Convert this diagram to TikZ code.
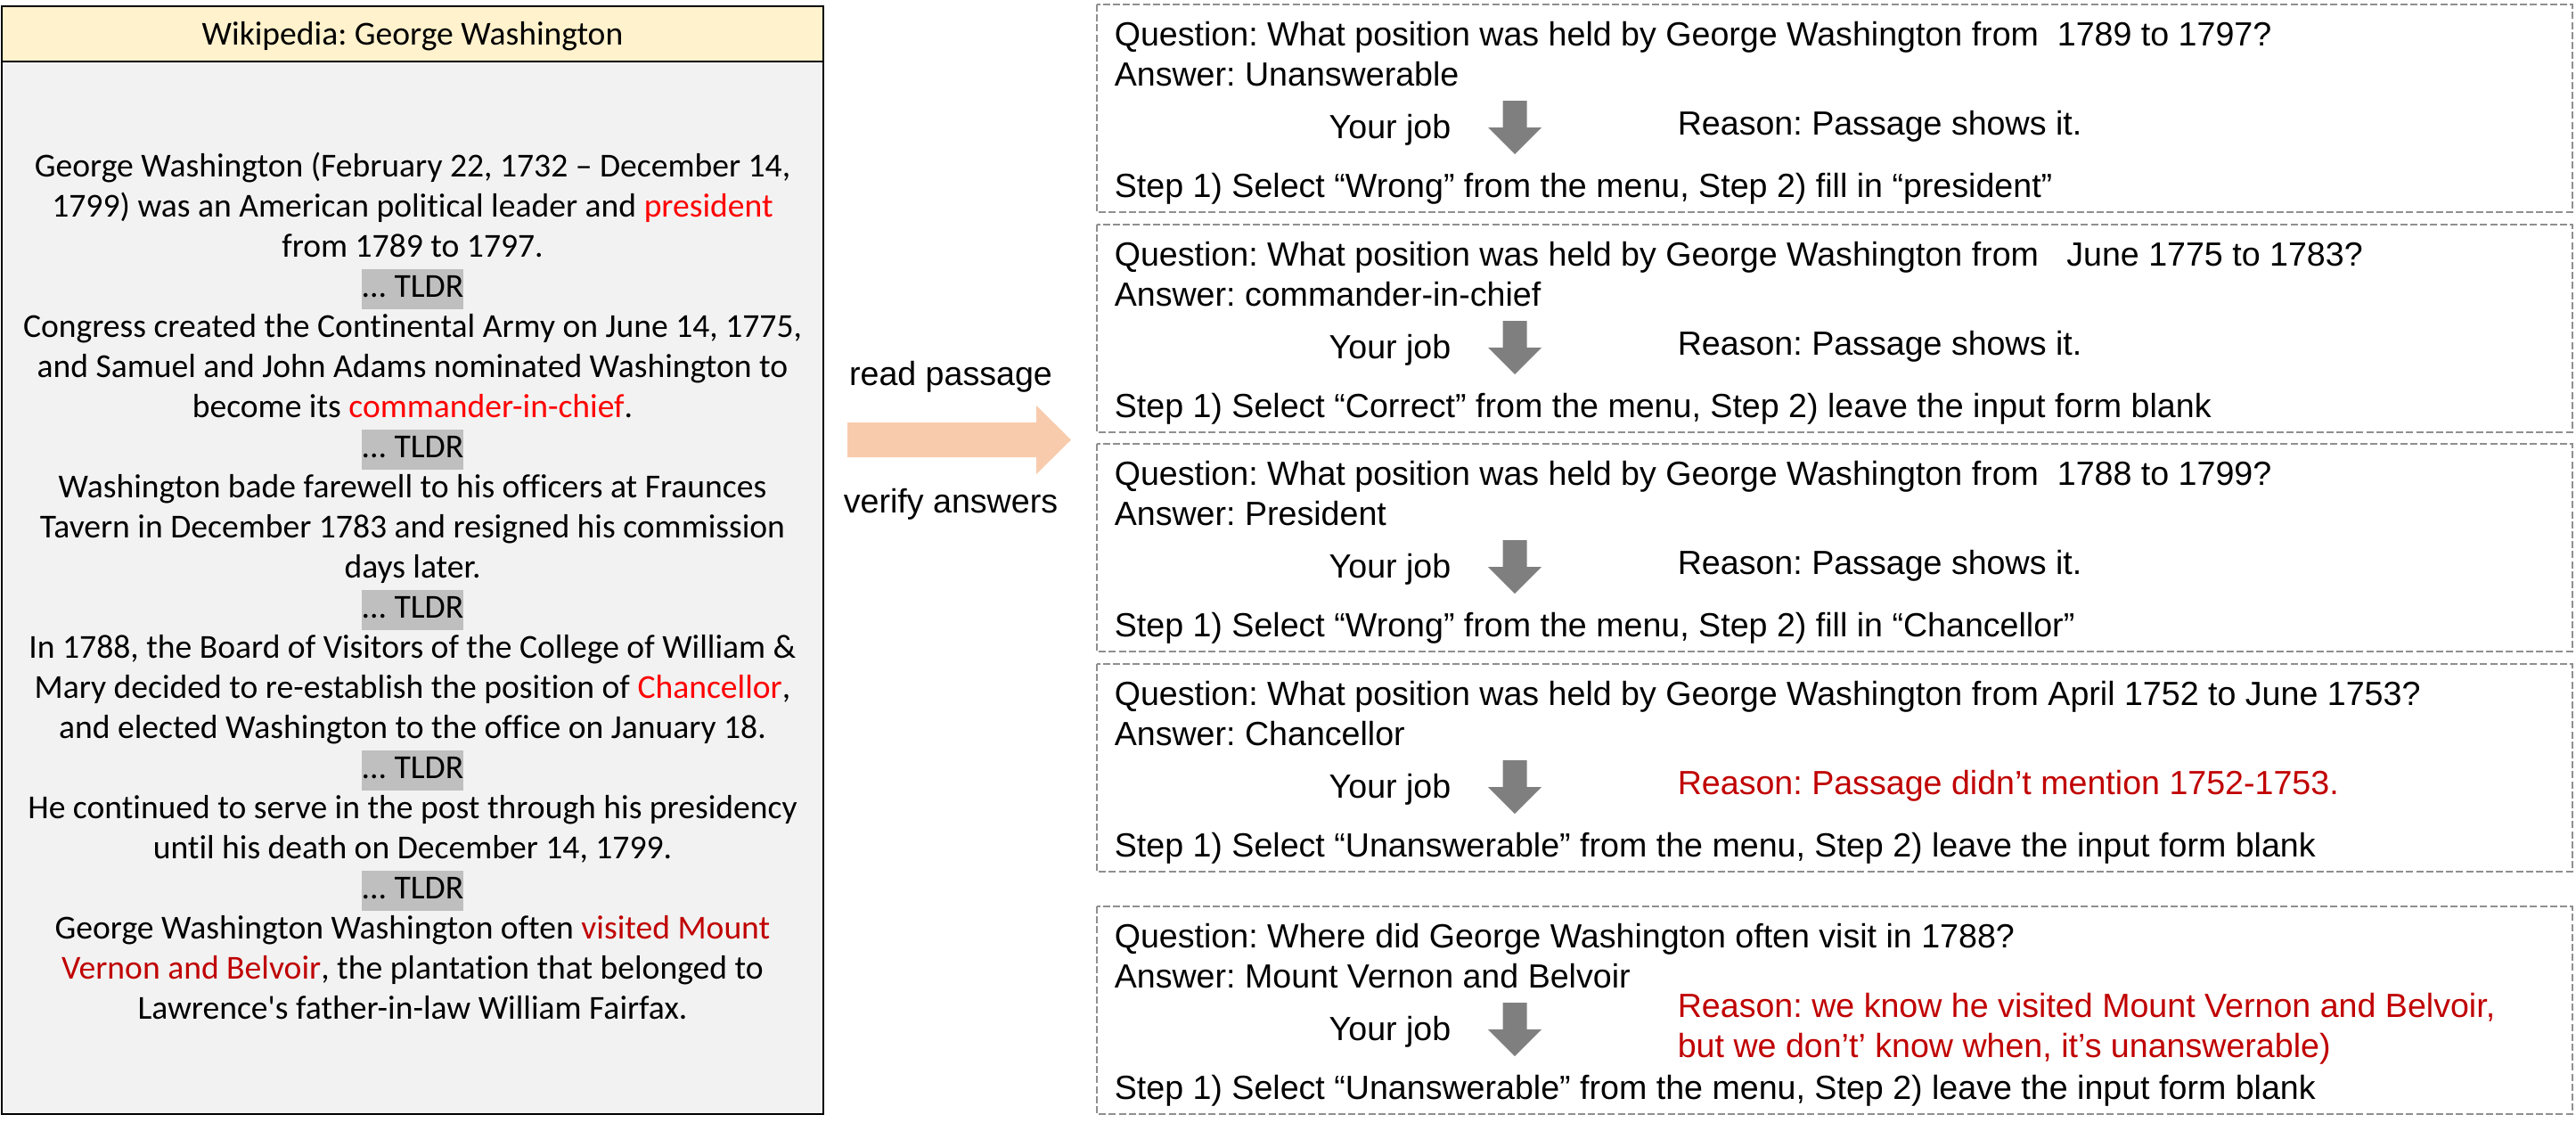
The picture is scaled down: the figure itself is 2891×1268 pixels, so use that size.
\documentclass[tikz,border=0pt]{standalone}
\usepackage{fontspec}
\setmainfont{Liberation Sans}
\newfontfamily\wikifont[Ligatures={NoCommon}]{Carlito}
\usetikzlibrary{positioning}
\definecolor{titlefill}{HTML}{FFF2CC}
\definecolor{passagefill}{HTML}{F2F2F2}
\definecolor{tldrgray}{HTML}{BFBFBF}
\definecolor{hlred}{HTML}{FF0000}
\definecolor{darkred}{HTML}{C00000}
\definecolor{boxgray}{HTML}{8F8F8F}
\definecolor{jobgray}{HTML}{7F7F7F}
\definecolor{peach}{HTML}{F8CBAD}
\frenchspacing

\newcommand{\tldr}{{\setlength{\fboxsep}{0pt}\colorbox{tldrgray}{\strut... TLDR}}}
% one question box: name, top, question, answer, reason colour, reason, step
\newcommand{\qabox}[7]{%
	\draw[qaframe] (1231,#2) rectangle (2887,#2+233);
	\node[qtext,anchor=base west] (#1q) at (1250,#2+46) {Question: #3};
	\node[qtext,anchor=base west] (#1a) at (1250,#2+91) {Answer: #4};
	\node[qtext,anchor=base] (#1job) at (1560,#2+150) {Your job};
	\fill[jobgray] (1686.5,#2+108) -- (1713.5,#2+108) -- (1713.5,#2+138) -- (1730,#2+138)
		-- (1700,#2+168) -- (1670,#2+138) -- (1686.5,#2+138) -- cycle;
	\node[qtext,anchor=west,align=left,text=#5] (#1r) at (1882,#2+137) {#6};
	\node[qtext,anchor=base west] (#1s) at (1250,#2+216) {Step 1) #7};
}

\begin{document}
\begin{tikzpicture}[x=0.25pt,y=-0.25pt,
	qaframe/.style={draw=boxgray,line width=0.4pt,dash pattern=on 2pt off 0.8pt},
	qtext/.style={inner sep=0pt,font=\fontsize{9.4}{11.25}\selectfont},
	passage/.style={inner sep=0pt,anchor=north,align=center,
		font=\wikifont\fontsize{9.4}{11.25}\selectfont},
	steplabel/.style={inner sep=0pt,anchor=base,font=\fontsize{9.4}{11.25}\selectfont}]
	\useasboundingbox (0,0) rectangle (2891,1268);
	% passage
	\filldraw[fill=passagefill,draw=black,line width=0.6pt] (2,7) rectangle (924,1250);
	\filldraw[fill=titlefill,draw=black,line width=0.6pt] (2,7) rectangle (924,69);
	\node[passage,anchor=base] (title) at (463,50) {Wikipedia: George Washington};
	\node[passage] (passage) at (463,166.5) {%
		\strut George Washington (February 22, 1732 – December 14,\\
		1799) was an American political leader and \textcolor{hlred}{president}\\
		from 1789 to 1797.\\
		\tldr\\
		Congress created the Continental Army on June 14, 1775,\\
		and Samuel and John Adams nominated Washington to\\
		become its \textcolor{hlred}{commander-in-chief}.\\
		\tldr\\
		Washington bade farewell to his officers at Fraunces\\
		Tavern in December 1783 and resigned his commission\\
		days later.\\
		\tldr\\
		In 1788, the Board of Visitors of the College of William \&\\
		Mary decided to re-establish the position of \textcolor{hlred}{Chancellor},\\
		and elected Washington to the office on January 18.\\
		\tldr\\
		He continued to serve in the post through his presidency\\
		until his death on December 14, 1799.\\
		\tldr\\
		George Washington Washington often \textcolor{darkred}{visited Mount}\\
		\textcolor{darkred}{Vernon and Belvoir}, the plantation that belonged to\\
		Lawrence\textquotesingle s father-in-law William Fairfax.};
	% big arrow
	\coordinate (readtail) at (951,493.5);
	\coordinate (readtip) at (1202,493.5);
	\fill[peach] (readtail) ++(0,-19.5) -- ++(212,0) -- ++(0,-19) -- (readtip)
		-- ++(-39,38.5) -- ++(0,-19) -- ++(-212,0) -- cycle;
	\node[steplabel] (read) at (1067,432) {read passage};
	\node[steplabel] (verify) at (1067,575) {verify answers};
	% question boxes
	\qabox{qa1}{5}{What position was held by George Washington from\ \ 1789 to 1797?}
		{Unanswerable}{black}{Reason: Passage shows it.}
		{Select “Wrong” from the menu, Step 2) fill in “president”}
	\qabox{qa2}{252}{What position was held by George Washington from\ \ \ June 1775 to 1783?}
		{commander-in-chief}{black}{Reason: Passage shows it.}
		{Select “Correct” from the menu, Step 2) leave the input form blank}
	\qabox{qa3}{498}{What position was held by George Washington from\ \ 1788 to 1799?}
		{President}{black}{Reason: Passage shows it.}
		{Select “Wrong” from the menu, Step 2) fill in “Chancellor”}
	\qabox{qa4}{745}{What position was held by George Washington from April 1752 to June 1753?}
		{Chancellor}{darkred}{Reason: Passage didn’t mention 1752-1753.}
		{Select “Unanswerable” from the menu, Step 2) leave the input form blank}
	\qabox{qa5}{1017}{Where did George Washington often visit in 1788?}
		{Mount Vernon and Belvoir}{darkred}{Reason: we know he visited Mount Vernon and Belvoir,\\
		but we don’t’ know when, it’s unanswerable)}
		{Select “Unanswerable” from the menu, Step 2) leave the input form blank}
\end{tikzpicture}
\end{document}
